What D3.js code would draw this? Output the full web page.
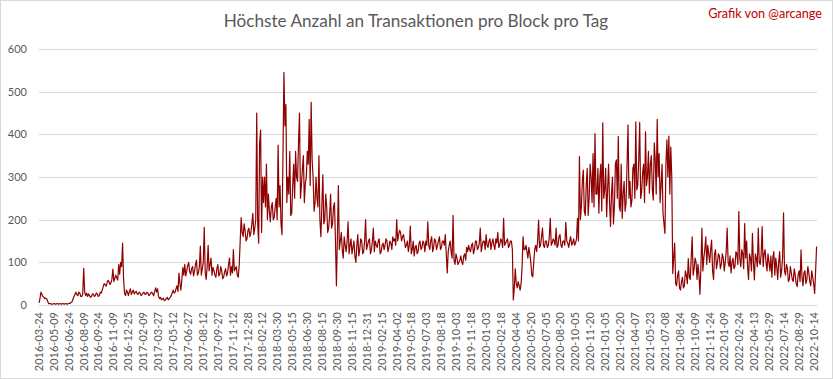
<!DOCTYPE html>
<html><head><meta charset="utf-8">
<script src="https://cdn.jsdelivr.net/npm/d3@7"></script>
<style>body{margin:0;background:#fff} svg{display:block}</style>
</head><body>
<svg id="c" width="833" height="379"></svg>
<script>
const titleText = "Höchste Anzahl an Transaktionen pro Block pro Tag";
const creditText = "Grafik von @arcange";
const tickLabels = ["2016-03-24","2016-05-09","2016-06-24","2016-08-09","2016-09-24","2016-11-09","2016-12-25","2017-02-09","2017-03-27","2017-05-12","2017-06-27","2017-08-12","2017-09-27","2017-11-12","2017-12-28","2018-02-12","2018-03-30","2018-05-15","2018-06-30","2018-08-15","2018-09-30","2018-11-15","2018-12-31","2019-02-15","2019-04-02","2019-05-18","2019-07-03","2019-08-18","2019-10-03","2019-11-18","2020-01-03","2020-02-18","2020-04-04","2020-05-20","2020-07-05","2020-08-20","2020-10-05","2020-11-20","2021-01-05","2021-02-20","2021-04-07","2021-05-23","2021-07-08","2021-08-24","2021-10-09","2021-11-24","2022-01-09","2022-02-24","2022-04-13","2022-05-29","2022-07-14","2022-08-29","2022-10-14"];
const yTicks = [0,100,200,300,400,500,600];
const daysPerTick = 46;
const daysPerSample = 3;
// readings on days 0, 6, 12, ... (counted from 2016-03-24)
const valuesA = [
5,30,20,15,14,3,3,2,3,3,
2,3,3,2,3,3,4,8,20,30,
22,28,20,86,22,20,22,20,25,22,
26,22,28,42,48,52,55,52,84,62,
64,95,100,145,28,35,22,38,30,26,
32,25,28,24,30,26,28,24,30,22,
40,38,15,12,16,12,18,15,22,35,
30,45,75,35,88,95,80,100,72,90,
80,105,75,138,85,182,60,140,95,70,
80,65,95,72,80,65,85,75,110,90,
130,85,70,95,205,160,175,155,180,170,
215,180,450,145,410,300,300,330,260,195,
240,205,250,375,280,165,545,470,300,360,
215,330,360,290,450,280,350,285,360,435,
475,300,240,250,350,160,305,200,230,180,
260,190,240,45,280,150,130,160,125,195,
140,120,150,100,165,130,150,125,200,140,
155,130,180,150,135,155,125,145,140,150,
135,145,160,155,200,165,170,160,150,140,
125,185,130,115,140,125,150,135,145,150,
195,130,160,135,150,140,160,135,150,165,
75,140,125,210,95,110,100,115,95,120,
135,140,125,145,130,150,135,180,140,150,
165,135,155,145,140,155,170,140,150,203,
145,155,140,150,12,85,40,45,50,160,
130,125,135,100,66,130,125,199,140,180,
135,150,140,203,145,150,180,140,165,135,
150,194,145,150,140,155,145,203,348,230,
316,210,320,250,300,355,402,260,215,330,
427,270,207,330,184,300,230,340,395,220,
203,290,240,422,290,245,330,429,280,428,
265,330,406,300,262,350,246,340,435,355,
280,215,168,387,396,370,74,145,45,80,
35,65,45,70,109,60,160,85,100,95,
25,180,110,160,140,100,152,60,130,100,
115,95,110,100,180,90,75,110,90,120,
219,90,120,191,150,60,110,168,59,110,
180,95,184,120,100,120,80,65,125,110,
60,125,80,216,70,85,60,75,55,70,
43,80,129,45,80,60,75,45,65,27,137
];
// readings on days 3, 9, 15, ...
const valuesB = [
15,25,18,16,8,3,2,3,2,3,
3,2,3,3,2,4,6,14,25,24,
30,20,25,30,28,26,18,26,20,28,
20,30,35,50,44,58,48,60,55,70,
58,72,90,60,22,30,32,25,35,30,
26,30,22,28,25,30,22,28,26,32,
30,20,18,14,10,15,12,18,28,28,
38,32,50,60,70,68,92,78,85,68,
95,70,90,70,100,75,90,80,110,88,
70,85,68,90,62,78,68,95,70,75,
80,90,65,150,170,190,150,175,160,190,
165,200,190,380,170,240,230,200,220,230,
200,230,200,230,190,350,420,240,260,210,
280,250,300,380,250,320,240,300,330,280,
340,220,300,230,200,230,190,260,170,210,
180,230,150,160,130,170,110,140,150,120,
155,135,115,140,115,155,120,150,130,150,
120,150,125,140,150,120,140,130,155,125,
150,130,150,140,150,175,150,165,135,150,
140,120,150,135,120,145,130,150,125,140,
140,150,125,155,130,150,130,150,140,120,
125,150,110,105,120,95,105,100,115,105,
125,130,140,120,150,130,145,125,150,130,
140,150,130,155,130,145,135,155,135,140,
150,135,150,130,40,50,55,35,90,130,
140,110,120,70,100,140,150,135,160,140,
150,135,160,140,155,140,135,160,140,150,
140,150,135,160,145,140,155,150,200,290,
220,280,210,330,240,230,260,320,300,220,
250,320,270,240,260,190,330,250,230,330,
260,220,330,250,230,320,250,270,340,250,
310,240,280,360,330,270,380,260,300,240,
330,190,330,300,260,300,110,50,70,40,
55,40,80,50,65,110,70,110,60,70,
90,80,130,95,120,130,80,120,85,120,
85,120,80,125,100,115,100,85,125,95,
110,130,85,110,90,120,80,100,120,90,
100,120,90,130,80,100,115,110,70,90,
100,65,110,80,95,55,90,60,85,50,
70,55,65,75,50,90,55,80,50,80
];

// merge both reading lists in day order
const series = [];
valuesA.forEach((v,i)=>{
  series.push(v);
  if (i < valuesB.length) series.push(valuesB[i]);
});

const svg = d3.select("#c");
const FONT = "Lato, 'Liberation Sans', sans-serif";
const textCol = "#595959";

svg.append("rect").attr("x",0.5).attr("y",0.5).attr("width",832).attr("height",378)
  .attr("fill","#fff").attr("stroke","#d9d9d9");

const x = d3.scaleLinear().domain([0,(tickLabels.length-1)*daysPerTick]).range([39,814]);
const y = d3.scaleLinear().domain([0,600]).range([305,49]);

svg.append("g").selectAll("line").data(yTicks).join("line")
  .attr("x1",39).attr("x2",817)
  .attr("y1",d=>Math.round(y(d))+0.5).attr("y2",d=>Math.round(y(d))+0.5)
  .attr("stroke","#d9d9d9").attr("stroke-width",1);

svg.append("g").selectAll("text").data(yTicks).join("text")
  .attr("x",27).attr("y",d=>y(d)).attr("dy","0.35em")
  .attr("text-anchor","end").attr("font-family",FONT).attr("font-size",11)
  .attr("fill",textCol).text(d=>d);

svg.append("g").selectAll("text").data(tickLabels).join("text")
  .attr("transform",(d,i)=>`translate(${x(i*daysPerTick)},312) rotate(-90)`)
  .attr("dy","0.35em").attr("text-anchor","end")
  .attr("font-family",FONT).attr("font-size",11).attr("fill",textCol).text(d=>d);

const line = d3.line().x((d,i)=>x(i*daysPerSample)).y(d=>y(d));
svg.append("path").datum(series).attr("d",line)
  .attr("fill","none").attr("stroke","#8f0000").attr("stroke-width",1.2)
  .attr("stroke-linejoin","round");

const t = svg.append("text").attr("x",416).attr("y",27).attr("text-anchor","middle")
  .attr("font-family",FONT).attr("font-size",18).attr("fill",textCol).text(titleText);
const tl = t.node().getComputedTextLength();
t.attr("font-size", 18*385/tl);

const c = svg.append("text").attr("x",822).attr("y",18).attr("text-anchor","end")
  .attr("font-family",FONT).attr("font-size",12).attr("fill","#c00000").text(creditText);
const cl = c.node().getComputedTextLength();
c.attr("font-size", 12*114/cl);
</script>
</body></html>
